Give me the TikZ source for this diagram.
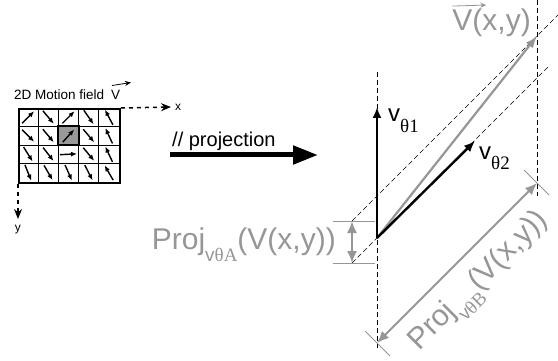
\documentclass[tikz,border=0pt]{standalone}
\usepackage{fontspec}
\setmainfont{Liberation Sans}
\newfontfamily\grk{Liberation Serif}
\usetikzlibrary{arrows.meta,positioning,calc}
\definecolor{projgray}{RGB}{150,150,150}
\tikzset{
  cellarrow/.style={-{Latex[length=6pt,width=5pt]}, line width=1.4pt},
  axisarrow/.style={line width=1.5pt, dash pattern=on 4pt off 4pt, -{Stealth[length=10pt,width=8pt]}},
  guide/.style={line width=0.7pt, dash pattern=on 5pt off 3pt},
  basis/.style={-{Latex[length=11pt,width=9pt]}, line width=2.4pt},
  vfield/.style={-{Latex[length=12pt,width=9pt]}, line width=2.2pt, projgray},
  dimline/.style={{Latex[length=12pt,width=10pt]}-{Latex[length=12pt,width=10pt]}, line width=2pt, projgray},
  extline/.style={line width=0.8pt, projgray},
  bigarrow/.style={-{Triangle[length=25pt,width=18pt]}, line width=5pt},
  lbl/.style={inner sep=0pt, font=\fontsize{30}{30}\selectfont, text=projgray},
  small/.style={inner sep=0pt, font=\fontsize{13.5}{14}\selectfont}
}
\newcommand\basislabel[1]{{\fontsize{24}{24}\selectfont v}\raisebox{-10pt}{\grk\fontsize{19}{19}\selectfont θ#1}}
\newcommand\projlabel[1]{Proj\raisebox{-12pt}{\fontsize{19}{19}\selectfont v{\grk θ#1}}(V(x,y))}

\begin{document}
\begin{tikzpicture}[x=1pt, y=-1pt]
  \useasboundingbox (0,0) rectangle (558,361);

  % motion field
  \node[small, anchor=base west] (title) at (14,100) {2D Motion field};
  \node[small, anchor=base west] (titleV) at (111,100) {V};
  \draw[line width=0.8pt, -{Stealth[length=6pt,width=5pt]}] ($(titleV.north west)+(1,-5)$) -- ++(19,-3);
  \fill[black!40] (58.4,126.5) rectangle (78.6,145);
  \foreach \i in {1,...,4} \draw[line width=0.8pt] (18+20.2*\i,108) -- (18+20.2*\i,182);
  \foreach \j in {1,2,3} \draw[line width=0.8pt] (18,108+18.5*\j) -- (119,108+18.5*\j);
  \draw[line width=2pt] (58.4,126.5) rectangle (78.6,145);
  \node[draw, line width=2pt, minimum width=101pt, minimum height=74pt, inner sep=0pt, anchor=north west] (field) at (18,108) {};
  \foreach \r/\c/\a in {1/1/-45,1/2/50,1/3/-45,1/4/55,1/5/-118,
                        2/1/45,2/2/50,2/3/-48,2/4/50,2/5/-115,
                        3/1/58,3/2/52,3/3/-3,3/4/50,3/5/-115,
                        4/1/68,4/2/60,4/3/66,4/4/63,4/5/-120}
    \draw[cellarrow] ($(18+20.2*\c-10.1,108+18.5*\r-9.25)+(\a:-8.5)$) -- ++(\a:17);
  \coordinate (xend) at (171,107);
  \coordinate (yend) at (18,219);
  \draw[axisarrow] (field.north east) -- (xend);
  \draw[axisarrow] (field.south west) -- (yend);
  \node[small, font=\fontsize{12}{12}\selectfont, right=4pt of xend] (xlab) {x};
  \node[small, font=\fontsize{12}{12}\selectfont, below=6pt of yend] (ylab) {y};

  % projection arrow
  \coordinate (pa) at (170,155);
  \coordinate (pb) at (318,155);
  \draw[bigarrow] (pa) -- (pb);
  \node[inner sep=0pt, anchor=base west, font=\fontsize{20}{20}\selectfont] (projtxt) at (172,147) {// projection};

  % basis and vector
  \coordinate (O) at (377,238);
  \coordinate (T1) at (377,107);
  \coordinate (T2) at (475,141);
  \coordinate (TV) at (537,36);
  \draw[guide] (377,72) -- (377,348);
  \draw[guide] (537,0) -- (537,196);
  \draw[guide] (352,221) -- (558,15);
  \draw[guide] (352,263) -- (550,65);
  \draw[vfield] (O) -- (TV);
  \draw[basis] (O) -- (T1);
  \draw[basis] (O) -- (T2);
  \node[inner sep=0pt, anchor=base west] (v1lab) at (388,122) {\basislabel{1}};
  \node[inner sep=0pt, anchor=base west] (v2lab) at (479,160) {\basislabel{2}};
  \node[lbl, anchor=base east] (vlab) at (531,31) {V(x,y)};
  \draw[projgray, line width=0.8pt, -{Stealth[length=6pt,width=5pt]}] ($(vlab.north west)+(0,-3)$) -- ++(34,-1);

  % projection on v theta A
  \draw[extline] (333,221) -- (375,221);
  \draw[extline] (333,263) -- (375,263);
  \draw[dimline] (352,221) -- (352,263);
  \node[lbl, anchor=base east] (projA) at (336,250) {\projlabel{A}};

  % projection on v theta B
  \coordinate (BA) at (377,343);
  \coordinate (BB) at (537,183);
  \draw[extline] ($(BA)+(-12,-12)$) -- ($(BA)+(13,13)$);
  \draw[extline] ($(BB)+(-13,-13)$) -- ($(BB)+(12,12)$);
  \draw[dimline] (BA) -- (BB);
  \node[lbl, rotate=45] (projB) at (481,283) {\projlabel{B}};
\end{tikzpicture}
\end{document}
